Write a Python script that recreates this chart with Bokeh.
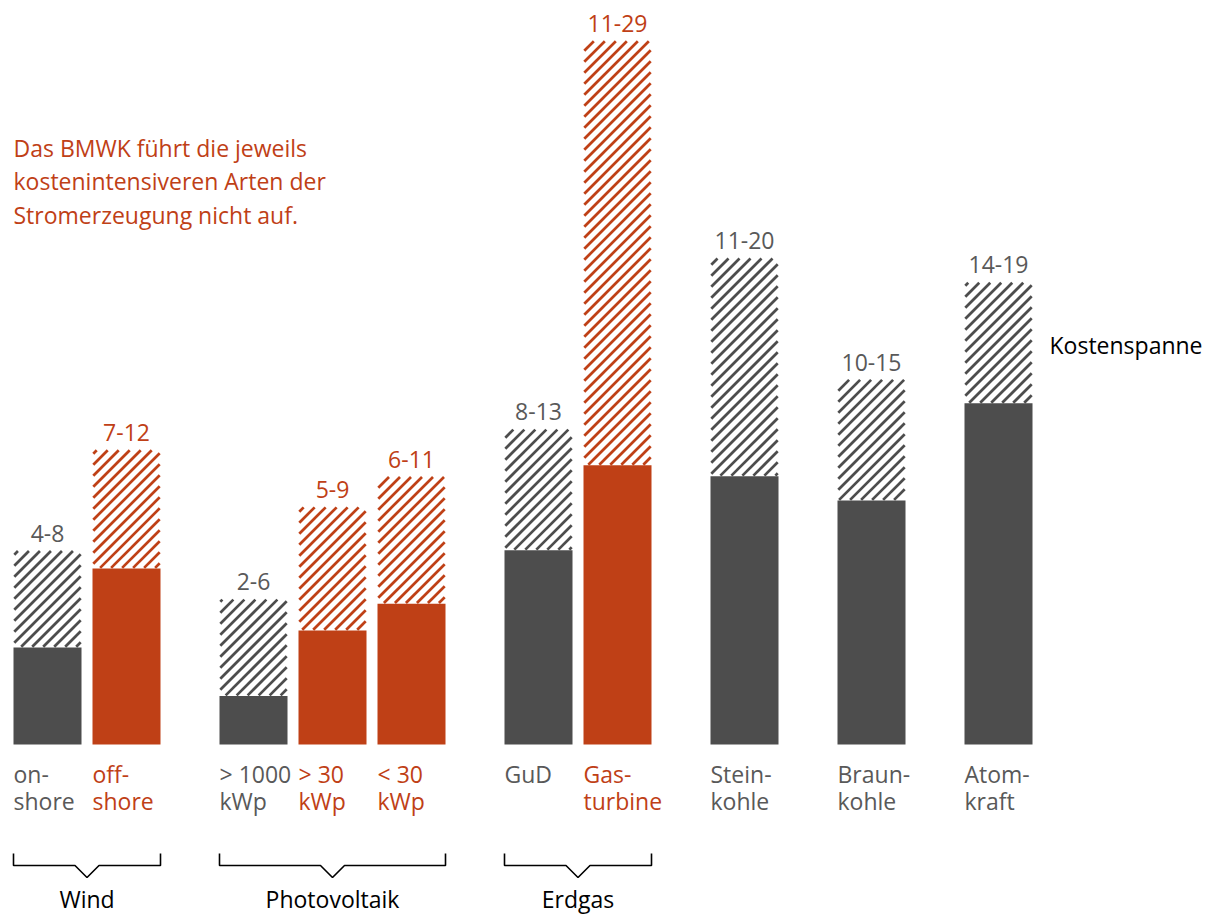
from bokeh.plotting import figure
from bokeh.models import ColumnDataSource, Range1d
from bokeh.core.properties import value
from bokeh.embed import file_html
from bokeh.resources import INLINE

# ---- data ----
categories = ["on-\nshore", "off-\nshore", "> 1000\nkWp", "> 30\nkWp", "< 30\nkWp",
              "GuD", "Gas-\nturbine", "Stein-\nkohle", "Braun-\nkohle", "Atom-\nkraft"]
low_values = [4.0, 7.25, 2.0, 4.7, 5.8, 8.0, 11.5, 11.05, 10.05, 14.05]
high_values = [8.0, 12.15, 6.0, 9.8, 11.05, 13.0, 29.0, 20.05, 15.05, 19.05]
range_labels = ["4-8", "7-12", "2-6", "5-9", "6-11", "8-13", "11-29", "11-20", "10-15", "14-19"]
omitted = [False, True, False, True, True, False, True, False, False, False]
groups = ["Wind", "Photovoltaik", "Erdgas"]
group_members = [[0, 1], [2, 3, 4], [5, 6]]
note_lines = ["Das BMWK führt die jeweils", "kostenintensiveren Arten der",
              "Stromerzeugung nicht auf."]
legend_label = "Kostenspanne"

# ---- layout / style ----
GRAY = "#4d4d4d"
TXT_GRAY = "#595959"
RED = "#bf4016"
FONT = value("Open Sans")
FS = "23px"
centers = [47, 126, 253, 332, 411, 538, 617, 744, 871, 998]
BW = 68
PX = 24.28  # pixels per unit
HATCH_STEP = 11.0  # horizontal period of the 45-degree stripes, px

p = figure(width=1210, height=914, output_backend="svg", toolbar_location=None,
           x_range=Range1d(0, 1210), y_range=Range1d(-170 / PX, 744 / PX),
           min_border=0, outline_line_color=None)
p.axis.visible = False
p.grid.visible = False
p.background_fill_color = "white"

colors = [RED if o else GRAY for o in omitted]
txtcol = [RED if o else TXT_GRAY for o in omitted]

src = ColumnDataSource(dict(x=centers, low=low_values, high=high_values, color=colors,
                            tcol=txtcol, lab=range_labels))
p.vbar(x="x", width=BW, bottom=0, top="low", fill_color="color", line_color=None, source=src)

# 45-degree hatch stripes for the cost range (low..high), computed from the data
hx, hy, hc = [], [], []
for i in range(len(centers)):
    L = centers[i] - BW / 2 + 0.8
    R = centers[i] + BW / 2 - 0.8
    B = low_values[i] * PX + 0.6
    T = high_values[i] * PX - 0.8
    c = B - R
    c = (c // HATCH_STEP) * HATCH_STEP
    while c <= T - L:
        xa = max(L, B - c)
        xb = min(R, T - c)
        if xb > xa:
            hx.append([xa, xb])
            hy.append([(xa + c) / PX, (xb + c) / PX])
            hc.append(colors[i])
        c += HATCH_STEP
p.multi_line(xs="xs", ys="ys", line_color="c", line_width=2.7, line_cap="butt",
             source=ColumnDataSource(dict(xs=hx, ys=hy, c=hc)))

p.text(x="x", y="high", text="lab", text_color="tcol", text_font=FONT, text_font_size=FS,
       text_align="center", text_baseline="middle", y_offset=-17, source=src)

# category labels (two lines)
lx, ly, lt, lc, lo = [], [], [], [], []
for i, c in enumerate(categories):
    for j, line in enumerate(c.split("\n")):
        lx.append(centers[i] - BW / 2)
        ly.append(0)
        lt.append(line)
        lc.append(txtcol[i])
        lo.append(29 + 27 * j)
lsrc = ColumnDataSource(dict(x=lx, y=ly, t=lt, c=lc, yo=lo))
p.text(x="x", y="y", text="t", text_color="c", text_font=FONT, text_font_size=FS,
       text_align="left", text_baseline="middle", y_offset="yo", source=lsrc)

# brackets
y_line = -121 / PX
y_top = -109 / PX
y_v = -133 / PX
for g, mem in zip(groups, group_members):
    x0 = centers[mem[0]] - BW / 2
    x1 = centers[mem[-1]] + BW / 2
    xm = (x0 + x1) / 2
    p.line([x0, x0, xm - 12, xm, xm + 12, x1, x1],
           [y_top, y_line, y_line, y_v, y_line, y_line, y_top],
           line_color="black", line_width=1.6)
    p.text(x=[xm], y=[-154 / PX], text=[g], text_color="black", text_font=FONT,
           text_font_size=FS, text_align="center", text_baseline="middle")

# note
for k, line in enumerate(note_lines):
    p.text(x=[13], y=[(744 - 147 - 33.5 * k) / PX], text=[line], text_color=RED,
           text_font=FONT, text_font_size=FS, text_align="left", text_baseline="middle")

p.text(x=[1049], y=[(744 - 344) / PX], text=[legend_label], text_color="black",
       text_font=FONT, text_font_size=FS, text_align="left", text_baseline="middle")

open("out.html", "w").write(file_html(p, INLINE))
